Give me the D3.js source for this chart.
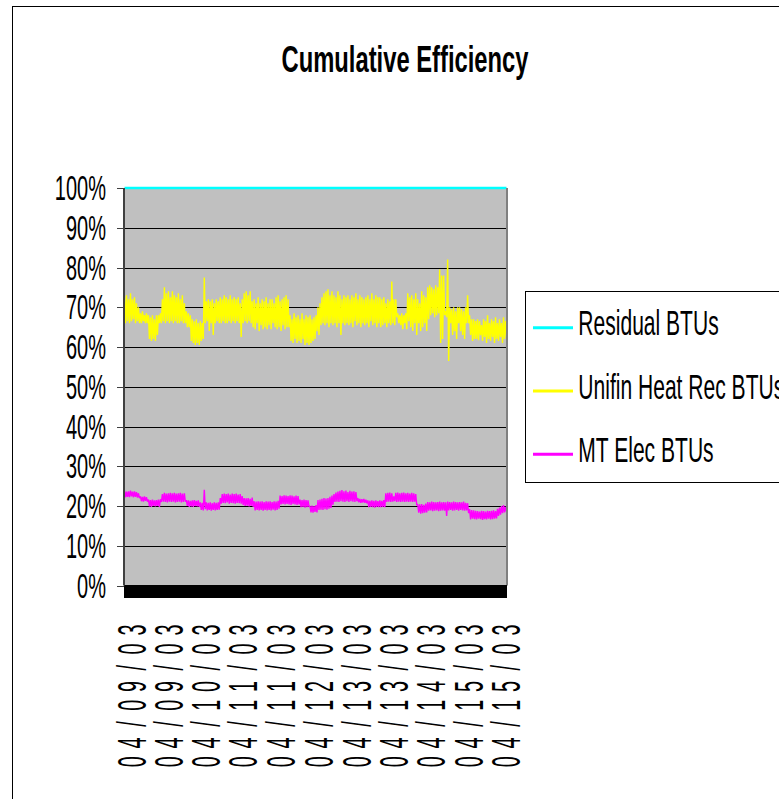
<!DOCTYPE html>
<html><head><meta charset="utf-8">
<script src="https://cdn.jsdelivr.net/npm/d3@7"></script>
<style>html,body{margin:0;padding:0;background:#fff;overflow:hidden}</style>
</head><body><svg id="c" width="779" height="799"></svg>
<script>
const chartTitle = "Cumulative Efficiency";
const seriesNames = ["Residual BTUs", "Unifin Heat Rec BTUs", "MT Elec BTUs"];
const seriesColors = ["#00FFFF", "#FFFF00", "#FF00FF"];
const yTicks = [0, 10, 20, 30, 40, 50, 60, 70, 80, 90, 100];
const yTickLabels = ["0%", "10%", "20%", "30%", "40%", "50%", "60%", "70%", "80%", "90%", "100%"];
const xLabels = ["04/09/03", "04/09/03", "04/10/03", "04/11/03", "04/11/03", "04/12/03", "04/13/03", "04/13/03", "04/14/03", "04/15/03", "04/15/03"];
const xLabelIndex = [7, 44, 81, 118, 156, 195, 233, 270, 307, 345, 382];

// cumulative (MT Elec + Unifin) percentage
const unifinCum = [
  72.5,66,73,66.5,72,66,73.5,66.5,72,67,72.5,66,71,66.5,70,66,
  68.5,66,69,66.5,68,66,68.5,66,68,62,67.5,61.5,68,62,67,61.5,
  68,63,68,66,68.5,66,72,66.5,75,66,73.5,66.5,74,66,72.5,66.5,
  74,66,73,66.5,72.5,66,73.5,66,72,66.5,73,66,71,66,69,65,
  68.5,65,68,61.5,67,61,66.5,60.5,67,61,66,60.5,66.5,61.5,66,62,
  77.5,66,71.5,66.5,72,64,71.5,66,72,63,71,66,72,66.5,71.5,66,
  72.5,66,72,66.5,73,66,72.5,66,72,66.5,73,66,72,66.5,72.5,66,
  72,66.5,72.5,66,71,62.5,72,66,73.5,66.5,74,66,73,66.5,74,66,
  71.5,65,72,64.5,71,66,72.5,64,71,65.5,72,64.5,71.5,65,72.5,64.5,
  71,65.5,72,64.5,72,66,71,65,72.5,64.5,73,65,71.5,64,72,65.5,
  72.5,64.5,73,65,72,65,68,61.5,67,61,68.5,62,67.5,61,68,61.5,
  67,61,68.5,62,67,60.5,68,61,67.5,60.5,68,61,67,61.5,67.5,62,
  68,64,70,63,71,65.5,72.5,66,73.5,65.5,74,66,74.5,65,73,66,
  74,65.5,73,66,72.5,65,74,66,73,63,72,66,73,65.5,72.5,66,
  73,65.5,72,66,73,65,72.5,66.5,73.5,65.5,72,66,73,65,72.5,66,
  72,65.5,72.5,66,73,65,72,66.5,73.5,65.5,72,66,73,65,72.5,66,
  72.5,65,72,65.5,72.5,66,71,65,72,66,71.5,65.5,76.5,66,72,65.5,
  72,67.5,68.5,66,68,65.5,68.5,64.5,68,66,68.5,64.5,73.5,66.5,72.5,65,
  73,64,72,66,73.5,63,72,66,71,64,74,65,73,66,72.5,64,
  75,67,75.5,68,75,68.5,74.5,67.5,75.5,68,75,68.5,79.5,61,78,62,
  78,68,69,67.5,82,56.5,70,66,69.5,63,70,64,69,62,70,66,
  70,64,69.5,63,69,62,70,66,73,66,68,63,67,61.5,67,62,
  66.5,62,67,61.7,66.5,63,65.5,61.5,67,62.5,66.5,61,68,62,66,61.5,
  67,62.5,66.5,61,67.5,62,66,61.5,67,62.5,66,61,67.5,62,66.5,62.5
];
// MT Elec percentage
const mtElec = [
  23.8,22.2,23.6,22.3,23.7,22.2,23.9,22.4,23.6,22.2,23.7,22.3,23.5,22.1,23.2,22.0,
  22.4,21.2,22.3,21.1,22.4,21.3,22.2,21.1,21.6,19.9,21.5,19.8,21.6,20.0,21.4,19.9,
  21.5,20.0,21.6,19.8,21.7,21.0,23.0,21.1,23.3,21.0,23.1,20.9,23.2,21.1,23.3,21.0,
  23.2,21.1,23.3,20.9,23.1,21.0,23.2,21.1,23.3,20.9,23.1,21.0,23.2,21.1,21.5,20.0,
  21.4,19.8,21.3,19.9,21.4,19.8,21.5,20.0,21.3,19.9,21.4,19.8,20.9,19.0,20.8,18.9,
  24.1,19.2,20.9,18.9,20.8,19.0,20.9,18.8,20.7,19.0,20.9,18.9,20.8,19.0,20.9,19.1,
  22.0,20.6,23.0,20.8,23.1,20.7,23.0,20.9,23.1,20.6,22.9,20.8,23.1,20.7,23.0,20.6,
  23.1,20.8,22.9,20.7,23.0,20.6,22.5,20.3,22.0,20.0,21.9,20.1,22.0,19.9,21.8,20.0,
  22.1,19.8,21.2,18.9,21.1,19.0,21.2,18.9,21.1,19.0,21.2,18.8,21.0,19.0,21.2,18.9,
  21.1,19.0,21.2,18.9,21.0,19.1,21.2,18.9,21.1,19.0,21.3,19.3,22.6,20.4,22.5,20.5,
  22.7,20.4,22.6,20.5,22.5,20.4,22.7,20.3,22.6,20.5,22.4,20.4,22.6,20.3,22.5,20.4,
  21.6,19.7,21.5,19.8,21.6,19.6,21.5,19.7,21.4,19.8,20.0,18.4,20.1,18.3,20.0,18.5,
  20.2,18.4,21.5,19.0,21.6,19.1,21.8,19.0,22.0,19.2,21.9,19.1,22.0,19.3,22.3,19.5,
  22.6,20.3,23.0,21.0,23.4,21.1,23.6,21.0,23.8,21.2,24.0,21.1,23.7,21.0,23.9,21.2,
  23.5,21.0,23.8,21.2,23.6,21.1,23.7,21.0,23.5,21.2,22.0,20.9,21.8,20.8,21.7,20.9,
  21.8,20.8,21.6,20.7,21.4,19.7,21.3,19.8,21.4,19.7,21.3,19.6,21.4,19.8,21.2,19.7,
  21.4,19.7,21.3,19.8,21.5,19.7,23.2,21.0,23.3,21.1,23.4,21.0,23.2,21.1,22.4,21.2,
  23.3,21.0,23.4,21.1,23.2,21.0,23.3,21.1,23.4,21.0,23.2,21.1,23.3,21.0,23.1,21.1,
  23.3,21.0,23.2,21.1,23.0,20.2,20.5,18.3,20.4,18.1,20.5,18.2,20.3,18.3,20.6,18.4,
  21.0,18.8,20.9,18.9,21.1,18.7,21.0,18.8,20.9,18.9,21.0,18.7,21.1,18.8,20.9,18.9,
  21.0,18.8,20.9,17.5,21.1,18.9,21.0,19.0,20.9,18.8,21.1,18.9,21.0,19.0,20.9,18.8,
  21.0,19.0,20.9,18.9,21.1,18.8,20.8,18.9,20.7,18.2,19.2,16.6,19.0,16.8,18.9,16.7,
  18.8,16.6,18.7,16.8,18.6,16.7,18.8,16.5,18.7,16.7,18.6,16.6,18.8,16.8,18.7,16.6,
  18.8,16.7,18.9,16.8,18.7,16.9,19.3,17.5,19.6,17.8,20.0,18.2,20.2,18.4,19.8,18.6
];

const FONT = "'Liberation Sans', Arial, sans-serif";
const svg = d3.select("#c");
const n = Math.min(unifinCum.length, mtElec.length);

// 100% stacked line chart: shares of each component
const rows = d3.range(n).map(i => ({
  mt: mtElec[i],
  unifin: unifinCum[i] - mtElec[i],
  residual: 100 - unifinCum[i]
}));
const stacked = d3.stack().keys(["mt", "unifin", "residual"])(rows);

const plot = {left: 124, right: 507, top: 188, bottom: 585.5};
const x = d3.scaleLinear().domain([0, n - 1]).range([plot.left + 0.5, plot.right - 0.5]);
const y = d3.scaleLinear().domain([0, 100]).range([plot.bottom, plot.top]);

// outer chart border
svg.append("rect").attr("x", 12.5).attr("y", 6.5).attr("width", 900).attr("height", 900)
  .attr("fill", "#fff").attr("stroke", "#000").attr("stroke-width", 1);

// title
svg.append("g").attr("transform", "translate(405,72.3) scale(0.637,1)")
  .append("text").attr("text-anchor", "middle").attr("font-family", FONT)
  .attr("font-weight", "bold").attr("font-size", 37.3).attr("fill", "#000").text(chartTitle);

// plot area
svg.append("rect").attr("x", plot.left).attr("y", plot.top)
  .attr("width", plot.right - plot.left).attr("height", plot.bottom - plot.top)
  .attr("fill", "#C0C0C0");

// gridlines
svg.append("g").selectAll("line").data(yTicks.filter(t => t > 0)).join("line")
  .attr("x1", plot.left).attr("x2", plot.right)
  .attr("y1", d => Math.round(y(d)) + 0.5).attr("y2", d => Math.round(y(d)) + 0.5)
  .attr("stroke", "#000").attr("stroke-width", 1);

// series lines (upper edge of each stacked share)
const line = d3.line().x((d, i) => x(i)).y(d => y(d[1]));
const colorByKey = {residual: seriesColors[0], unifin: seriesColors[1], mt: seriesColors[2]};
stacked.forEach(s => {
  svg.append("path").datum(s).attr("d", line)
    .attr("fill", "none").attr("stroke", colorByKey[s.key])
    .attr("stroke-width", s.key === "residual" ? 2.5 : 1.4)
    .attr("stroke-linejoin", "bevel");
});

// plot right border
svg.append("line").attr("x1", plot.right).attr("x2", plot.right)
  .attr("y1", plot.top).attr("y2", plot.bottom)
  .attr("stroke", "#808080").attr("stroke-width", 2);

// category ticks (dense black band, one tick per category)
svg.append("g").attr("shape-rendering", "crispEdges")
  .selectAll("line").data(d3.range(n)).join("line")
  .attr("x1", d => x(d)).attr("x2", d => x(d))
  .attr("y1", plot.bottom - 0.5).attr("y2", plot.bottom + 12.5)
  .attr("stroke", "#000").attr("stroke-width", 1.5);

// y axis
svg.append("line").attr("x1", plot.left).attr("x2", plot.left)
  .attr("y1", plot.top).attr("y2", plot.bottom)
  .attr("stroke", "#404040").attr("stroke-width", 2);
svg.append("g").selectAll("line").data(yTicks).join("line")
  .attr("x1", plot.left - 7).attr("x2", plot.left)
  .attr("y1", d => Math.round(y(d)) + 0.5).attr("y2", d => Math.round(y(d)) + 0.5)
  .attr("stroke", "#404040").attr("stroke-width", 1);
svg.append("g").selectAll("g").data(yTicks).join("g")
  .attr("transform", d => `translate(106,${y(d) + 12.2}) scale(0.585,1)`)
  .append("text").attr("text-anchor", "end").attr("font-family", FONT)
  .attr("font-size", 34.2).attr("fill", "#000")
  .text((d, i) => yTickLabels[i]);

// x labels (rotated, uniformly spaced characters)
const pitch = 18.8;
const xl = svg.append("g");
xLabels.forEach((lab, j) => {
  const cx = x(xLabelIndex[j]);
  const g = xl.append("g").attr("transform", `translate(${cx + 14.5},761.7) rotate(-90)`);
  lab.split("").forEach((ch, k) => {
    g.append("g").attr("transform", `translate(${k * pitch},0) scale(0.62,1.28)`)
      .append("text").attr("text-anchor", "middle").attr("font-family", FONT)
      .attr("font-size", 32).attr("fill", "#000").text(ch);
  });
});

// legend
const lg = svg.append("g");
lg.append("rect").attr("x", 525.5).attr("y", 291.5).attr("width", 300).attr("height", 191)
  .attr("fill", "#fff").attr("stroke", "#000").attr("stroke-width", 1);
seriesNames.forEach((name, i) => {
  const ly = 327.7 + i * 63.3;
  lg.append("line").attr("x1", 533).attr("x2", 573).attr("y1", ly).attr("y2", ly)
    .attr("stroke", seriesColors[i]).attr("stroke-width", 3);
  lg.append("g").attr("transform", `translate(578.3,${ly + 7.5}) scale(0.585,1)`)
    .append("text").attr("font-family", FONT).attr("font-size", 36).attr("fill", "#000").text(name);
});
</script>
</body></html>
